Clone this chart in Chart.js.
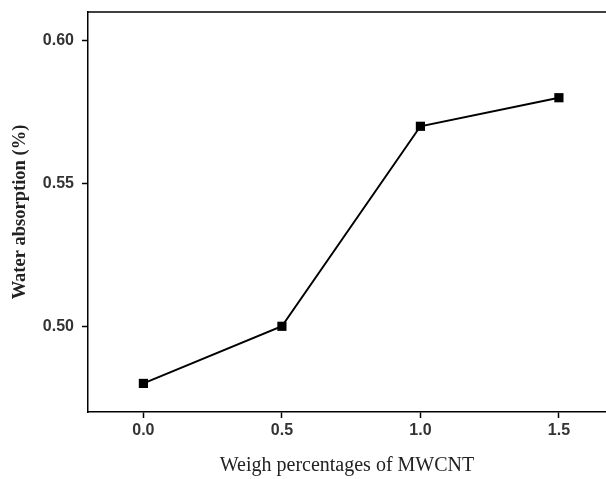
<!DOCTYPE html>
<html>
<head>
<meta charset="utf-8">
<script src="https://cdn.jsdelivr.net/npm/chart.js@4/dist/chart.umd.min.js"></script>
<style>
  html,body{margin:0;padding:0;background:#fff}
  #wrap{width:606px;height:479px}
</style>
</head>
<body>
<div id="wrap"><canvas id="c" width="606" height="479"></canvas></div>
<script>
// values
const mwcnt = [0.0, 0.5, 1.0, 1.5];
const waterAbsorption = [0.48, 0.50, 0.57, 0.58];
const xTickValues = [0.0, 0.5, 1.0, 1.5];
const yTickValues = [0.50, 0.55, 0.60];

const tickFont = {family: "'Liberation Sans', Arial, sans-serif", size: 16, weight: "bold"};
const serif = "'Liberation Serif', 'Times New Roman', serif";

// top line of the plot box (right side is cut off in the original)
const frame = {
  id: "frame",
  afterDraw(chart){
    const {ctx, chartArea:a} = chart;
    ctx.save();
    ctx.strokeStyle = "#000";
    ctx.lineWidth = 1.5;
    ctx.beginPath();
    ctx.moveTo(a.left, a.top);
    ctx.lineTo(a.right, a.top);
    ctx.stroke();
    ctx.restore();
  }
};

new Chart(document.getElementById("c"), {
  type: "line",
  data: {
    datasets: [{
      data: mwcnt.map((x,i)=>({x, y: waterAbsorption[i]})),
      borderColor: "#000",
      borderWidth: 2,
      backgroundColor: "#000",
      pointStyle: "rect",
      pointRadius: 6.5,
      pointBorderWidth: 0,
      tension: 0
    }]
  },
  options: {
    responsive: false,
    animation: false,
    layout: {autoPadding: false, padding: {top: 12, left: 0, right: 0, bottom: 0}},
    plugins: {legend: {display: false}, tooltip: {enabled: false}},
    scales: {
      x: {
        type: "linear",
        min: -0.2, max: 1.67,
        afterBuildTicks: s => { s.ticks = xTickValues.map(v=>({value: v})); },
        afterFit: s => { s.height = 67; s.paddingLeft = 0; s.paddingRight = 0; },
        ticks: {font: tickFont, color: "#333", padding: 3, callback: v => v.toFixed(1)},
        grid: {drawOnChartArea: false, drawTicks: true, tickLength: 6, tickWidth: 1.5, tickColor: "#000"},
        border: {display: true, color: "#000", width: 1.5},
        title: {display: true, text: "Weigh percentages of MWCNT", color: "#222",
                font: {family: serif, size: 20}, padding: {top: 0, bottom: 1}}
      },
      y: {
        min: 0.47, max: 0.61,
        afterBuildTicks: s => { s.ticks = yTickValues.map(v=>({value: v})); },
        afterFit: s => { s.width = 88; s.paddingTop = 0; s.paddingBottom = 0; },
        ticks: {font: tickFont, color: "#333", padding: 8, callback: v => v.toFixed(2)},
        grid: {drawOnChartArea: false, drawTicks: true, tickLength: 6, tickWidth: 1.5, tickColor: "#000"},
        border: {display: true, color: "#000", width: 1.5},
        title: {display: true, text: "Water absorption (%)", color: "#222",
                font: {family: serif, size: 18.5, weight: "bold"}, padding: {top: 9, bottom: 0}}
      }
    }
  },
  plugins: [frame]
});
</script>
</body>
</html>
